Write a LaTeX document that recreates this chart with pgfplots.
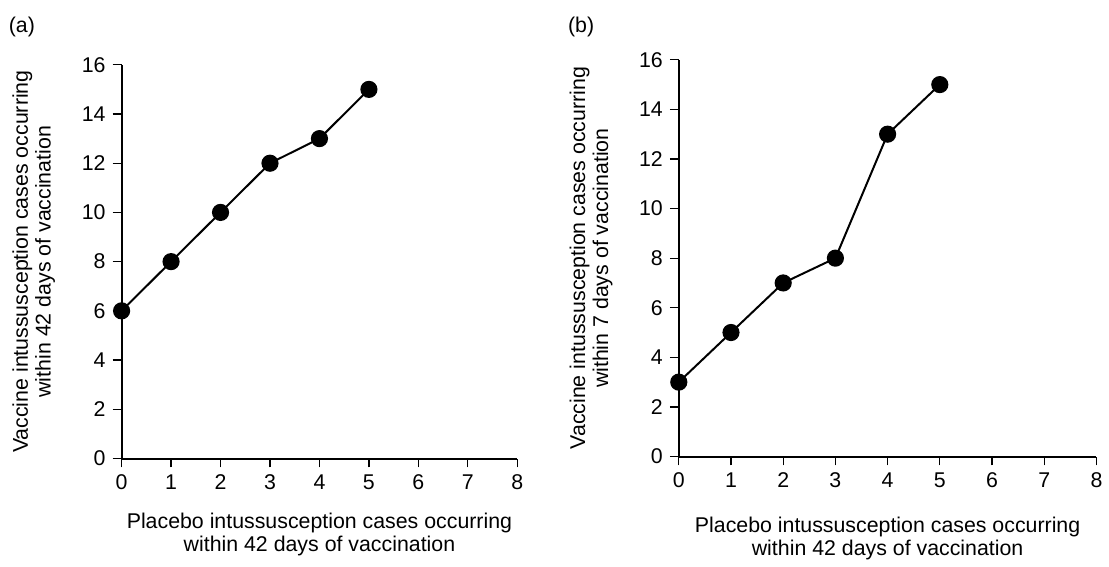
\documentclass[border=0pt]{standalone}
\usepackage{fontspec}
\setmainfont{Liberation Sans}
\usepackage{pgfplots}
\pgfplotsset{compat=1.18}

\pgfplotsset{
  panel/.style={
    scale only axis,
    xmin=0, xmax=8, ymin=0, ymax=16,
    xtick={0,...,8}, ytick={0,2,...,16},
    axis x line=bottom, axis y line=left,
    axis line style={-, line width=1pt},
    tick align=outside,
    major tick length=4.5pt,
    every tick/.style={black, line width=0.6pt},
    tick label style={font=\fontsize{10.7}{11.5}\selectfont},
    label style={font=\fontsize{10.7}{11.5}\selectfont, align=center},
    /pgf/number format/assume math mode=true,
    clip=false,
  },
  datline/.style={black, line width=1pt, mark=*, mark size=3.8pt, mark options={fill=black}},
}

\begin{document}
\begin{tikzpicture}
\path (0,0) rectangle (554.5pt,279.5pt);
\node[font=\fontsize{10.7}{11.5}\selectfont] at (11pt,266pt) {(a)};
\node[font=\fontsize{10.7}{11.5}\selectfont] at (291.5pt,266pt) {(b)};

\begin{axis}[panel,
  at={(61pt,49.5pt)}, anchor=south west,
  width=198.5pt, height=197.5pt,
  xlabel={Placebo intussusception cases occurring\\within 42 days of vaccination},
  xlabel style={at={(axis description cs:0.5,-0.194)}, anchor=center},
  ylabel={Vaccine intussusception cases occurring\\within 42 days of vaccination},
  ylabel style={at={(axis description cs:-0.222,0.5)}, anchor=center},
]
\addplot[datline] coordinates {(0,6) (1,8) (2,10) (3,12) (4,13) (5,15)};
\end{axis}

\begin{axis}[panel,
  at={(340.5pt,50.5pt)}, anchor=south west,
  width=209.5pt, height=199pt,
  xlabel={Placebo intussusception cases occurring\\within 42 days of vaccination},
  xlabel style={at={(axis description cs:0.5,-0.206)}, anchor=center},
  ylabel={Vaccine intussusception cases occurring\\within 7 days of vaccination},
  ylabel style={at={(axis description cs:-0.21,0.5)}, anchor=center},
]
\addplot[datline] coordinates {(0,3) (1,5) (2,7) (3,8) (4,13) (5,15)};
\end{axis}
\end{tikzpicture}
\end{document}
